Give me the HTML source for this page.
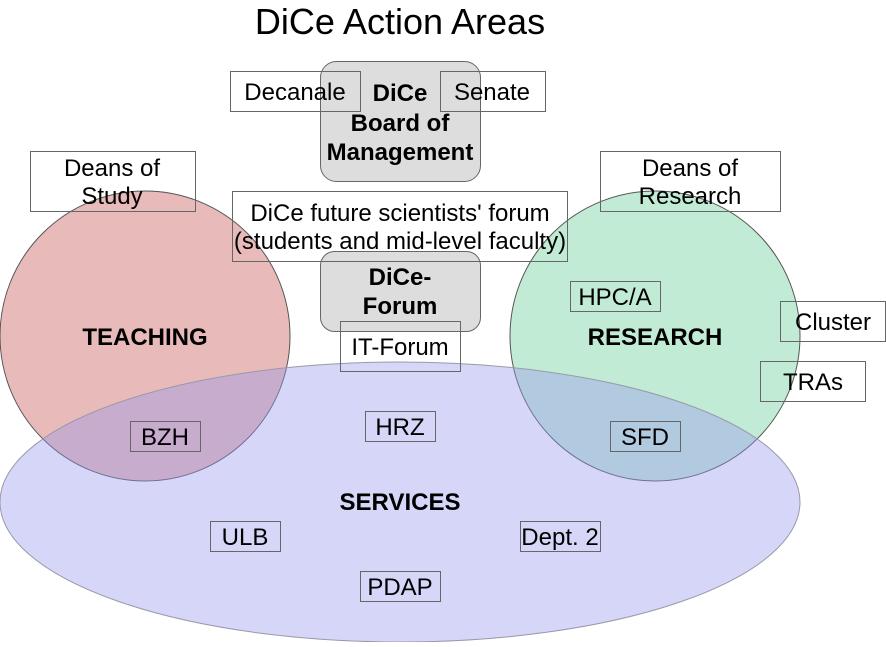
<!DOCTYPE html>
<html><head><meta charset="utf-8"><style>
body{margin:0;background:#fff}
svg text{font-family:"Liberation Sans",sans-serif;fill:#000}
</style></head><body>
<svg width="886" height="642" viewBox="0 0 886 642" xmlns="http://www.w3.org/2000/svg">
<rect width="886" height="642" fill="#fff"/>
<text x="400" y="34" font-size="36" text-anchor="middle">DiCe Action Areas</text>
<circle cx="145" cy="336" r="145" fill="rgba(204,102,102,0.45)" stroke="#555" stroke-width="1"/>
<circle cx="655" cy="336" r="145" fill="rgba(102,204,153,0.4)" stroke="#555" stroke-width="1"/>
<ellipse cx="400" cy="502" rx="400" ry="140" fill="rgba(153,153,238,0.4)" stroke="#99a" stroke-width="1"/>
<rect x="320.5" y="61.5" width="160" height="120" rx="16" fill="#ddd" stroke="#666"/>
<rect x="320.5" y="251.5" width="160" height="80" rx="14" fill="#ddd" stroke="#666"/>
<g fill="none" stroke="#666" stroke-width="1">
<rect x="230.5" y="71.5" width="130" height="40"/>
<rect x="440.5" y="71.5" width="105" height="40"/>
<rect x="30.5" y="151.5" width="165" height="60"/>
<rect x="600.5" y="151.5" width="180" height="60"/>
<rect x="232.5" y="191.5" width="335" height="70"/>
<rect x="340.5" y="321.5" width="120" height="50"/>
<rect x="570.5" y="281.5" width="90" height="30"/>
<rect x="780.5" y="301.5" width="105" height="40"/>
<rect x="760.5" y="361.5" width="105" height="40"/>
<rect x="130.5" y="421.5" width="70" height="30"/>
<rect x="365.5" y="411.5" width="70" height="30"/>
<rect x="610.5" y="421.5" width="70" height="30"/>
<rect x="210.5" y="521.5" width="70" height="30"/>
<rect x="520.5" y="521.5" width="80" height="30"/>
<rect x="360.5" y="571.5" width="80" height="30"/>
</g>
<g font-size="24" text-anchor="middle">
<text x="295" y="100">Decanale</text>
<text x="492" y="100">Senate</text>
<text x="400" y="101" font-weight="bold">DiCe</text>
<text x="400" y="131" font-weight="bold">Board of</text>
<text x="400" y="160" font-weight="bold">Management</text>
<text x="112" y="176">Deans of</text>
<text x="112" y="204">Study</text>
<text x="690" y="176">Deans of</text>
<text x="690" y="204">Research</text>
<text x="400" y="221">DiCe future scientists' forum</text>
<text x="400" y="249">(students and mid-level faculty)</text>
<text x="400" y="285" font-weight="bold">DiCe-</text>
<text x="400" y="314" font-weight="bold">Forum</text>
<text x="400" y="355">IT-Forum</text>
<text x="145" y="345" font-weight="bold">TEACHING</text>
<text x="655" y="345" font-weight="bold">RESEARCH</text>
<text x="400" y="510" font-weight="bold">SERVICES</text>
<text x="615" y="305">HPC/A</text>
<text x="833" y="330">Cluster</text>
<text x="813" y="390">TRAs</text>
<text x="165" y="445">BZH</text>
<text x="400" y="435">HRZ</text>
<text x="645" y="445">SFD</text>
<text x="245" y="545">ULB</text>
<text x="560" y="545">Dept. 2</text>
<text x="400" y="595">PDAP</text>
</g>
</svg>
</body></html>
